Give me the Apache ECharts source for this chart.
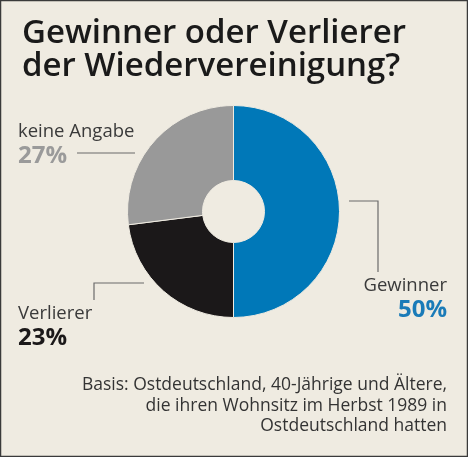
<!DOCTYPE html>
<html>
<head>
<meta charset="utf-8">
<script src="https://cdn.jsdelivr.net/npm/echarts@6/dist/echarts.min.js"></script>
<style>
html, body { margin: 0; padding: 0; background: #efebe1; }
#chart { width: 468px; height: 457px; }
</style>
</head>
<body>
<div id="chart"></div>
<script>
// Umfragewerte
var categories = ['Gewinner', 'Verlierer', 'keine Angabe'];
var values = [50, 23, 27];
var sliceColors = ['#0078b8', '#1b1819', '#999999'];
var valueColors = ['#1a7bb8', '#1b1819', '#9a9a9a'];

var titleText = 'Gewinner oder Verlierer\nder Wiedervereinigung?';
var noteText = 'Basis: Ostdeutschland, 40-Jährige und Ältere,\ndie ihren Wohnsitz im Herbst 1989 in\nOstdeutschland hatten';

var FONT = '"Open Sans", "Noto Sans", sans-serif';

// Label-Positionen je Segment
var labelPos = [
    { x: 447, y: 274, align: 'right', line: [[349, 201], [378, 201], [378, 272]] },
    { x: 18, y: 302, align: 'left', line: [[144, 283], [94, 283], [94, 300]] },
    { x: 18, y: 120, align: 'left', line: [[135, 153], [106, 153], [77, 153]] }
];

var data = categories.map(function (name, i) {
    return {
        name: name,
        value: values[i],
        itemStyle: { color: sliceColors[i] },
        label: {
            rich: {
                v: { fontSize: 24, fontWeight: 'bold', lineHeight: 26, color: valueColors[i], fontFamily: FONT }
            }
        }
    };
});

var chart = echarts.init(document.getElementById('chart'));
chart.setOption({
    backgroundColor: '#efebe1',
    animation: false,
    title: {
        text: titleText,
        left: 17,
        top: 12,
        textStyle: {
            fontFamily: FONT,
            fontSize: 33,
            fontWeight: 600,
            lineHeight: 33,
            color: '#1a1a1a'
        }
    },
    graphic: [{
        type: 'rect',
        shape: { x: 0.5, y: 0.5, width: 467, height: 456 },
        style: { fill: null, stroke: '#3a3a3a', lineWidth: 1.5 },
        silent: true
    }, {
        type: 'text',
        x: 447,
        y: 375,
        style: {
            text: noteText,
            align: 'right',
            verticalAlign: 'top',
            font: '17.5px ' + FONT,
            lineHeight: 20.5,
            fill: '#333333'
        },
        silent: true
    }],
    series: [{
        type: 'pie',
        center: [233.5, 211.5],
        radius: [31, 106],
        startAngle: 90,
        clockwise: true,
        data: data,
        itemStyle: { borderColor: '#efebe1', borderWidth: 1 },
        label: {
            show: true,
            overflow: 'none',
            formatter: function (p) { return '{n|' + p.name + '}\n{v|' + p.value + '%}'; },
            rich: {
                n: { fontSize: 18.5, lineHeight: 23, color: '#3a3a3a', fontFamily: FONT }
            }
        },
        labelLine: {
            show: true,
            lineStyle: { color: '#6b6b6b', width: 1.2 }
        },
        labelLayout: function (params) {
            var p = labelPos[params.dataIndex];
            return {
                x: p.x,
                y: p.y,
                width: 200,
                align: p.align,
                verticalAlign: 'top',
                labelLinePoints: p.line
            };
        },
        emphasis: { disabled: true }
    }]
});
</script>
</body>
</html>
